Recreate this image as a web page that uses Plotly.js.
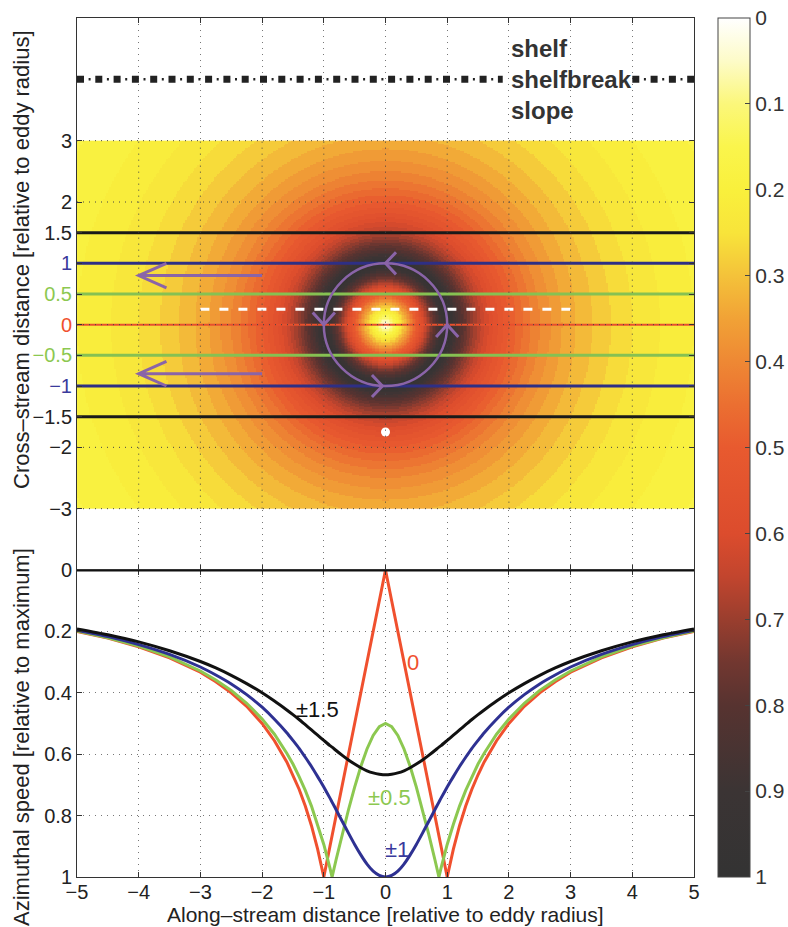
<!DOCTYPE html>
<html><head><meta charset="utf-8">
<script src="https://cdn.plot.ly/plotly-3.0.1.min.js"></script>
<style>body{margin:0;background:#fff}#chart{width:788px;height:927px}</style>
</head><body><div id="chart"></div>
<script>
// ---- radial speed profile of the eddy (relative to maximum) ----
const profileRadius = [0,0.25,0.5,0.75,1,1.1,1.2,1.3,1.4,1.5,1.6,1.8,2,2.25,2.5,2.75,3,3.5,4,4.5,5,5.5,6];
const profileSpeed  = [0,0.25,0.5,0.75,1,0.909,0.833,0.769,0.714,0.667,0.625,0.556,0.5,0.444,0.4,0.364,0.333,0.286,0.25,0.222,0.2,0.182,0.167];

// ---- bottom panel: speed along the transects ----
const alongX = [-5,-4.5,-4,-3.5,-3,-2.75,-2.5,-2.25,-2,-1.8,-1.6,-1.5,-1.4,-1.3,-1.2,-1.1,-1,-0.9,-0.866,-0.8,-0.7,-0.6,-0.5,-0.4,-0.3,-0.2,-0.1,0,
                0.1,0.2,0.3,0.4,0.5,0.6,0.7,0.8,0.866,0.9,1,1.1,1.2,1.3,1.4,1.5,1.6,1.8,2,2.25,2.5,2.75,3,3.5,4,4.5,5];
const speed0 = [0.2,0.222,0.25,0.286,0.333,0.364,0.4,0.444,0.5,0.556,0.625,0.667,0.714,0.769,0.833,0.909,1,0.9,0.866,0.8,0.7,0.6,0.5,0.4,0.3,0.2,0.1,0,
                0.1,0.2,0.3,0.4,0.5,0.6,0.7,0.8,0.866,0.9,1,0.909,0.833,0.769,0.714,0.667,0.625,0.556,0.5,0.444,0.4,0.364,0.333,0.286,0.25,0.222,0.2];
const speed05 = [0.199,0.221,0.248,0.283,0.329,0.358,0.392,0.434,0.485,0.535,0.597,0.632,0.673,0.718,0.769,0.828,0.894,0.971,1,0.943,0.86,0.781,0.707,0.64,0.583,0.539,0.51,0.5,
                 0.51,0.539,0.583,0.64,0.707,0.781,0.86,0.943,1,0.971,0.894,0.828,0.769,0.718,0.673,0.632,0.597,0.535,0.485,0.434,0.392,0.358,0.329,0.283,0.248,0.221,0.199];
const speed1 = [0.196,0.217,0.243,0.275,0.316,0.342,0.371,0.406,0.447,0.486,0.53,0.555,0.581,0.61,0.64,0.673,0.707,0.743,0.756,0.781,0.819,0.857,0.894,0.928,0.958,0.981,0.995,1,
                0.995,0.981,0.958,0.928,0.894,0.857,0.819,0.781,0.756,0.743,0.707,0.673,0.64,0.61,0.581,0.555,0.53,0.486,0.447,0.406,0.371,0.342,0.316,0.275,0.243,0.217,0.196];
const speed15 = [0.192,0.211,0.234,0.263,0.298,0.319,0.343,0.37,0.4,0.427,0.456,0.471,0.487,0.504,0.521,0.538,0.555,0.572,0.577,0.588,0.604,0.619,0.632,0.644,0.654,0.661,0.665,0.667,
                 0.665,0.661,0.654,0.644,0.632,0.619,0.604,0.588,0.577,0.572,0.555,0.538,0.521,0.504,0.487,0.471,0.456,0.427,0.4,0.37,0.343,0.319,0.298,0.263,0.234,0.211,0.192];

// ---- top panel: transects, eddy position ----
const transectY = [1.5, 1, 0.5, 0, -0.5, -1, -1.5];
const transectColor = ['#1a1a1a','#2e2f85','#86c152','#e8502e','#86c152','#2e2f85','#1a1a1a'];
const transectWidth = [3,3,3,2,3,3,3];
const yTickVals = [3,2,1.5,1,0.5,0,-0.5,-1,-1.5,-2,-3];
const yTickText = ['3','2','1.5','<span style="color:#3a3a9c">1</span>','<span style="color:#8cc850">0.5</span>','<span style="color:#f0502e">0</span>',
                   '<span style="color:#8cc850">−0.5</span>','<span style="color:#3a3a9c">−1</span>','−1.5','−2','−3'];
const dotX = [0], dotY = [-1.75];
const dashedX = [-3, 3], dashedY = [0.25, 0.25];
const cbTickVals = [0,0.1,0.2,0.3,0.4,0.5,0.6,0.7,0.8,0.9,1];

// ---- build the field grid from the radial profile ----
function profileAt(r){
  for(let i=1;i<profileRadius.length;i++){
    if(r<=profileRadius[i]){
      const t=(r-profileRadius[i-1])/(profileRadius[i]-profileRadius[i-1]);
      return profileSpeed[i-1]+t*(profileSpeed[i]-profileSpeed[i-1]);
    }
  }
  return profileSpeed[profileSpeed.length-1];
}
const gx=[], gy=[], gz=[];
for(let i=0;i<400;i++) gx.push(-5+0.0125+i*0.025);
for(let j=0;j<240;j++) gy.push(-3+0.0125+j*0.025);
for(let j=0;j<gy.length;j++){
  const row=[];
  for(let i=0;i<gx.length;i++){
    const v=profileAt(Math.sqrt(gx[i]*gx[i]+gy[j]*gy[j]));
    const q=Math.min(Math.floor(v/0.025),39)*0.025+0.0125;
    row.push(-q);
  }
  gz.push(row);
}

const cscale=[[0,'#333333'],[0.1,'#3b3434'],[0.2,'#573330'],[0.25,'#723730'],[0.3,'#9a3e2e'],[0.35,'#c2452e'],
  [0.4,'#dc4c2d'],[0.5,'#e85a2f'],[0.55,'#eb6f31'],[0.6,'#ee8834'],[0.65,'#f1a236'],[0.7,'#f4c23a'],
  [0.75,'#f8e43a'],[0.8,'#f9f03c'],[0.85,'#faf54c'],[0.9,'#fbf77a'],[0.95,'#fdfbc8'],[1,'#ffffff']];

const traces=[];
traces.push({type:'heatmap', x:gx, y:gy, z:gz, xaxis:'x2', yaxis:'y2', zmin:-1, zmax:0, zsmooth:false,
  colorscale:cscale, hoverinfo:'skip',
  colorbar:{x:1.0389, xanchor:'left', xpad:0, y:0.5, yanchor:'middle', ypad:0, len:1, thickness:32,
    outlinewidth:1, outlinecolor:'#444', ticks:'inside', ticklen:5, tickcolor:'#444',
    tickvals:cbTickVals.map(v=>-v), ticktext:cbTickVals.map(v=>String(v)),
    tickfont:{family:'Liberation Sans, Arial, sans-serif', size:21, color:'#333'}}});
transectY.forEach((yy,k)=>{
  traces.push({type:'scatter', mode:'lines', x:[-5,5], y:[yy,yy], xaxis:'x2', yaxis:'y2',
    line:{color:transectColor[k], width:transectWidth[k]}, hoverinfo:'skip'});
});
traces.push({type:'scatter', mode:'lines', x:dashedX, y:dashedY, xaxis:'x2', yaxis:'y2',
  line:{color:'#ffffff', width:3, dash:'9px,10px'}, hoverinfo:'skip'});
traces.push({type:'scatter', mode:'markers', x:dotX, y:dotY, xaxis:'x2', yaxis:'y2',
  marker:{color:'#ffffff', size:9}, hoverinfo:'skip'});

const curves=[[speed0,'#f0502e','linear'],[speed05,'#8cc850','linear'],[speed1,'#2e3192','spline'],[speed15,'#111111','spline']];
curves.forEach(c=>traces.push({type:'scatter', mode:'lines', x:alongX, y:c[0], xaxis:'x', yaxis:'y',
  line:{color:c[1], width:3, shape:c[2], smoothing:0.6}, hoverinfo:'skip'}));

const purple='#8a64a8';
const shapes=[];
// grid over heatmap
[-4,-3,-2,-1,0,1,2,3,4].forEach(v=>shapes.push({type:'line', xref:'x2', yref:'y2', x0:v, x1:v, y0:-3, y1:3, layer:'above',
  line:{color:'#444', width:1, dash:'1px,5px'}}));
[3,2,0,-2,-3].forEach(v=>shapes.push({type:'line', xref:'x2', yref:'y2', x0:-5, x1:5, y0:v, y1:v, layer:'above',
  line:{color:'#444', width:1, dash:'1px,5px'}}));
// shelfbreak line
shapes.push({type:'line', xref:'x2', yref:'y2', x0:-5, x1:1.9, y0:4, y1:4, line:{color:'#222', width:7, dash:'7px,11.3px'}});
shapes.push({type:'line', xref:'x2', yref:'y2', x0:-4.812, x1:1.9, y0:4, y1:4, line:{color:'#222', width:2.5, dash:'2px,16.3px'}});
shapes.push({type:'line', xref:'x2', yref:'y2', x0:4.0, x1:5, y0:4, y1:4, line:{color:'#222', width:7, dash:'7px,11.3px'}});
shapes.push({type:'line', xref:'x2', yref:'y2', x0:4.188, x1:5, y0:4, y1:4, line:{color:'#222', width:2.5, dash:'2px,16.3px'}});
// circulation
shapes.push({type:'circle', xref:'x2', yref:'y2', x0:-1, x1:1, y0:-1, y1:1, layer:'above', line:{color:purple, width:2.5}});
const arrowPaths=[
  'M -2 0.8 L -4 0.8 M -3.55 1.0 L -4 0.8 L -3.55 0.6',
  'M -2 -0.8 L -4 -0.8 M -3.55 -0.6 L -4 -0.8 L -3.55 -1.0',
  'M 0.17 1.18 L 0 1 L 0.17 0.82',
  'M -1.18 0.2 L -1 0 L -0.82 0.2',
  'M 0.82 -0.2 L 1 0 L 1.18 -0.2',
  'M -0.22 -0.82 L -0.05 -1 L -0.22 -1.18'];
arrowPaths.forEach(p=>shapes.push({type:'path', xref:'x2', yref:'y2', path:p, layer:'above', line:{color:purple, width:3}}));
// panel boundary
shapes.push({type:'line', xref:'x', yref:'y', x0:-5, x1:5, y0:0, y1:0, line:{color:'#111', width:3}});
// colorbar left-side ticks
cbTickVals.forEach(v=>{
  if(v===0||v===1) return;
  shapes.push({type:'line', xref:'paper', yref:'paper', x0:1.0389, x1:1.0389+5/617, y0:1-v, y1:1-v, line:{color:'#444', width:1}});
});

const fnt='Liberation Sans, Arial, sans-serif';
const annotations=[
  {text:'shelf', x:2, y:4.5}, {text:'shelfbreak', x:2, y:4}, {text:'slope', x:2, y:3.5}
].map(a=>Object.assign(a,{xref:'x2', yref:'y2', xanchor:'left', yanchor:'middle', showarrow:false,
  font:{family:fnt, size:24, color:'#333', weight:'bold'}}));
annotations.push({text:'0', x:0.45, y:0.3, xref:'x', yref:'y', showarrow:false, font:{family:fnt, size:22, color:'#f0502e'}});
annotations.push({text:'±1.5', x:-1.11, y:0.456, xref:'x', yref:'y', showarrow:false, font:{family:fnt, size:22, color:'#111'}});
annotations.push({text:'±0.5', x:0.07, y:0.74, xref:'x', yref:'y', showarrow:false, font:{family:fnt, size:22, color:'#8cc850'}});
annotations.push({text:'±1', x:0.19, y:0.91, xref:'x', yref:'y', showarrow:false, font:{family:fnt, size:22, color:'#3a3a9c'}});
annotations.push({text:'Cross–stream distance [relative to eddy radius]', textangle:-90, x:-0.0891, y:0.7183, xref:'paper', yref:'paper',
  xanchor:'center', yanchor:'middle', showarrow:false, font:{family:fnt, size:22, color:'#222'}});
annotations.push({text:'Azimuthal speed [relative to maximum]', textangle:-90, x:-0.0891, y:0.163, xref:'paper', yref:'paper',
  xanchor:'center', yanchor:'middle', showarrow:false, font:{family:fnt, size:22, color:'#222'}});
annotations.push({text:'Along–stream distance [relative to eddy radius]', x:0.5008, y:-0.0438, xref:'paper', yref:'paper',
  xanchor:'center', yanchor:'middle', showarrow:false, borderpad:0, font:{family:fnt, size:21, color:'#222'}});

const ax={showline:true, linecolor:'#333', linewidth:1, mirror:'ticks', ticks:'inside', ticklen:5, tickcolor:'#333',
  zeroline:false, tickfont:{family:fnt, size:20, color:'#222'}};
const layout={
  width:788, height:927, margin:{l:77, r:94, t:18, b:50, autoexpand:false}, showlegend:false,
  paper_bgcolor:'#fff', plot_bgcolor:'#fff',
  xaxis:Object.assign({}, ax, {domain:[0,1], anchor:'y', range:[-5,5], tickvals:[-5,-4,-3,-2,-1,0,1,2,3,4,5], ticklabelstandoff:-3,
    showgrid:true, gridcolor:'#777', griddash:'1px,5px', gridwidth:1}),
  yaxis:Object.assign({}, ax, {domain:[0,0.3574], anchor:'x', range:[1,0], tickvals:[0,0.2,0.4,0.6,0.8,1], ticktext:['0','0.2','0.4','0.6','0.8','1'],
    showgrid:true, gridcolor:'#777', griddash:'1px,5px', gridwidth:1}),
  xaxis2:Object.assign({}, ax, {domain:[0,1], anchor:'y2', matches:'x', range:[-5,5], tickvals:[-5,-4,-3,-2,-1,0,1,2,3,4,5], showticklabels:false,
    showgrid:true, gridcolor:'#777', griddash:'1px,5px', gridwidth:1}),
  yaxis2:Object.assign({}, ax, {domain:[0.3574,1], anchor:'x2', range:[-4,5], tickvals:yTickVals, ticktext:yTickText, showgrid:false}),
  shapes:shapes, annotations:annotations
};
Plotly.newPlot('chart', traces, layout, {staticPlot:true, displayModeBar:false});
</script></body></html>
